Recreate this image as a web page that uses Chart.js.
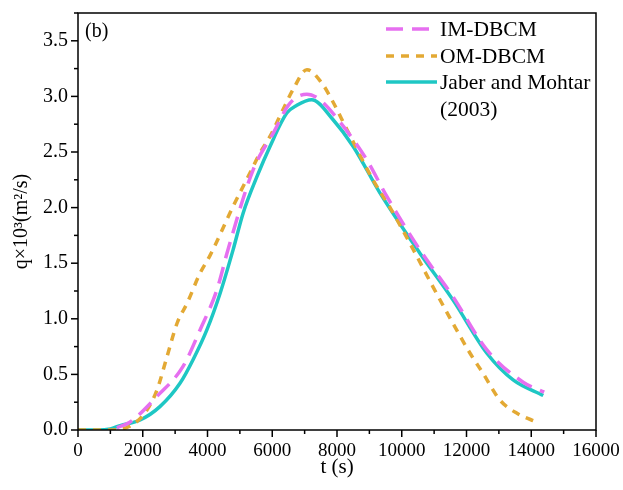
<!DOCTYPE html>
<html>
<head>
<meta charset="utf-8">
<script src="https://cdn.jsdelivr.net/npm/chart.js@4"></script>
<style>
  html, body { margin: 0; padding: 0; background: #fff; }
  #wrap { width: 623px; height: 490px; }
</style>
</head>
<body>
<div id="wrap"><canvas id="qChart" width="623" height="490"></canvas></div>
<script>
// values (t in s, q in 1e-3 m2/s)
const jaberT = [0, 600, 1000, 1300, 1920, 2530, 3150, 3550, 3980, 4390, 4790, 5100, 5530, 5930, 6450, 6760, 7220, 7880, 8500, 9330, 10560, 11580, 12630, 13440, 14370];
const jaberQ = [0, 0, 0.01, 0.04, 0.09, 0.21, 0.42, 0.63, 0.9, 1.23, 1.62, 1.95, 2.28, 2.55, 2.85, 2.92, 2.97, 2.79, 2.55, 2.13, 1.59, 1.17, 0.69, 0.45, 0.31];

const imT = [1200, 1600, 2430, 3240, 3770, 4290, 4650, 5410, 6030, 6550, 7070, 7470, 8090, 8920, 9540, 10560, 11580, 12630, 13750, 14400];
const imQ = [0.02, 0.07, 0.3, 0.57, 0.9, 1.26, 1.64, 2.34, 2.67, 2.94, 3.02, 2.97, 2.77, 2.43, 2.1, 1.62, 1.2, 0.72, 0.43, 0.34];

const omT = [0, 1000, 1700, 2130, 2440, 2750, 3060, 3370, 3770, 4080, 4790, 5310, 5620, 5930, 6330, 6640, 7070, 7530, 7840, 8310, 9110, 9640, 10250, 10960, 11580, 12110, 12510, 13030, 13560, 14180];
const omQ = [0, 0, 0.05, 0.18, 0.36, 0.66, 0.96, 1.14, 1.41, 1.57, 2.01, 2.31, 2.49, 2.64, 2.88, 3.06, 3.24, 3.12, 2.97, 2.7, 2.25, 2.0, 1.68, 1.29, 0.96, 0.69, 0.51, 0.27, 0.15, 0.07];

const xTicks = [0, 2000, 4000, 6000, 8000, 10000, 12000, 14000, 16000];
const yTicks = [0, 0.5, 1.0, 1.5, 2.0, 2.5, 3.0, 3.5];

const FONT = "'Liberation Serif', 'Times New Roman', serif";
const toPts = (xs, ys) => xs.map((x, i) => ({ x: x, y: ys[i] }));

// box, minor ticks, panel tag and line-sample legend
const framePlugin = {
    id: 'frame',
    afterDraw(chart) {
        const { ctx, chartArea: a, scales } = chart;
        const xs = scales.x, ys = scales.y;
        ctx.save();
        ctx.strokeStyle = '#000';
        ctx.lineWidth = 1.5;
        ctx.strokeRect(a.left, a.top, a.right - a.left, a.bottom - a.top);

        for (let v = 0; v <= 16000; v += 1000) {
            const px = xs.getPixelForValue(v);
            const len = v % 2000 === 0 ? 7 : 4;
            ctx.beginPath(); ctx.moveTo(px, a.bottom); ctx.lineTo(px, a.bottom + len); ctx.stroke();
        }
        for (let v = 0; v <= 3.75001; v += 0.25) {
            const py = ys.getPixelForValue(v);
            const len = Math.abs(v * 2 - Math.round(v * 2)) < 1e-6 ? 7 : 4;
            ctx.beginPath(); ctx.moveTo(a.left, py); ctx.lineTo(a.left - len, py); ctx.stroke();
        }

        ctx.fillStyle = '#000';
        ctx.font = '20px ' + FONT;
        ctx.textBaseline = 'middle';
        ctx.textAlign = 'left';
        ctx.fillText('(b)', a.left + 7, a.top + 19);

        ctx.font = '21.5px ' + FONT;
        const lx0 = 386, lx1 = 437, rows = [29, 56, 82];
        chart.data.datasets.forEach((ds, i) => {
            ctx.strokeStyle = ds.borderColor;
            ctx.lineWidth = ds.borderWidth;
            ctx.setLineDash(ds.borderDash || []);
            ctx.beginPath(); ctx.moveTo(lx0, rows[i]); ctx.lineTo(lx1, rows[i]); ctx.stroke();
            ctx.setLineDash([]);
            ctx.fillText(ds.label[0], lx1 + 3, rows[i] + 1);
            if (ds.label[1]) ctx.fillText(ds.label[1], lx1 + 3, rows[i] + 28);
        });
        ctx.restore();
    }
};

new Chart(document.getElementById('qChart'), {
    type: 'line',
    data: {
        datasets: [
            { label: ['IM-DBCM'], data: toPts(imT, imQ), borderColor: '#E66FF0', borderWidth: 3.5, borderDash: [17, 9], pointRadius: 0, cubicInterpolationMode: 'monotone', fill: false },
            { label: ['OM-DBCM'], data: toPts(omT, omQ), borderColor: '#E3A934', borderWidth: 3.5, borderDash: [8, 7], pointRadius: 0, cubicInterpolationMode: 'monotone', fill: false },
            { label: ['Jaber and Mohtar', '(2003)'], data: toPts(jaberT, jaberQ), borderColor: '#1EC7C4', borderWidth: 3.5, pointRadius: 0, cubicInterpolationMode: 'monotone', fill: false }
        ]
    },
    options: {
        responsive: false,
        animation: false,
        layout: { padding: { left: 0, right: 27, top: 13, bottom: 10 } },
        plugins: { legend: { display: false }, tooltip: { enabled: false } },
        scales: {
            x: {
                type: 'linear',
                min: 0, max: 16000,
                afterBuildTicks: s => { s.ticks = xTicks.map(v => ({ value: v })); },
                afterFit: s => { s.height = 50; s.paddingLeft = 0; s.paddingRight = 0; },
                grid: { display: false, drawTicks: false },
                border: { display: false },
                ticks: { color: '#000', padding: 10, maxRotation: 0, font: { family: FONT, size: 19 }, callback: v => String(v) },
                title: { display: true, text: 't (s)', color: '#000', padding: { top: 0, bottom: 0 }, font: { family: FONT, size: 21 } }
            },
            y: {
                type: 'linear',
                min: 0, max: 3.75,
                afterBuildTicks: s => { s.ticks = yTicks.map(v => ({ value: v })); },
                afterFit: s => { s.width = 78; s.paddingTop = 0; s.paddingBottom = 0; },
                grid: { display: false, drawTicks: false },
                border: { display: false },
                ticks: { color: '#000', padding: 10, font: { family: FONT, size: 20 }, callback: v => v.toFixed(1) },
                title: { display: true, text: 'q×10³(m²/s)', color: '#000', padding: { top: 10, bottom: 0 }, font: { family: FONT, size: 20 } }
            }
        }
    },
    plugins: [framePlugin]
});
</script>
</body>
</html>
